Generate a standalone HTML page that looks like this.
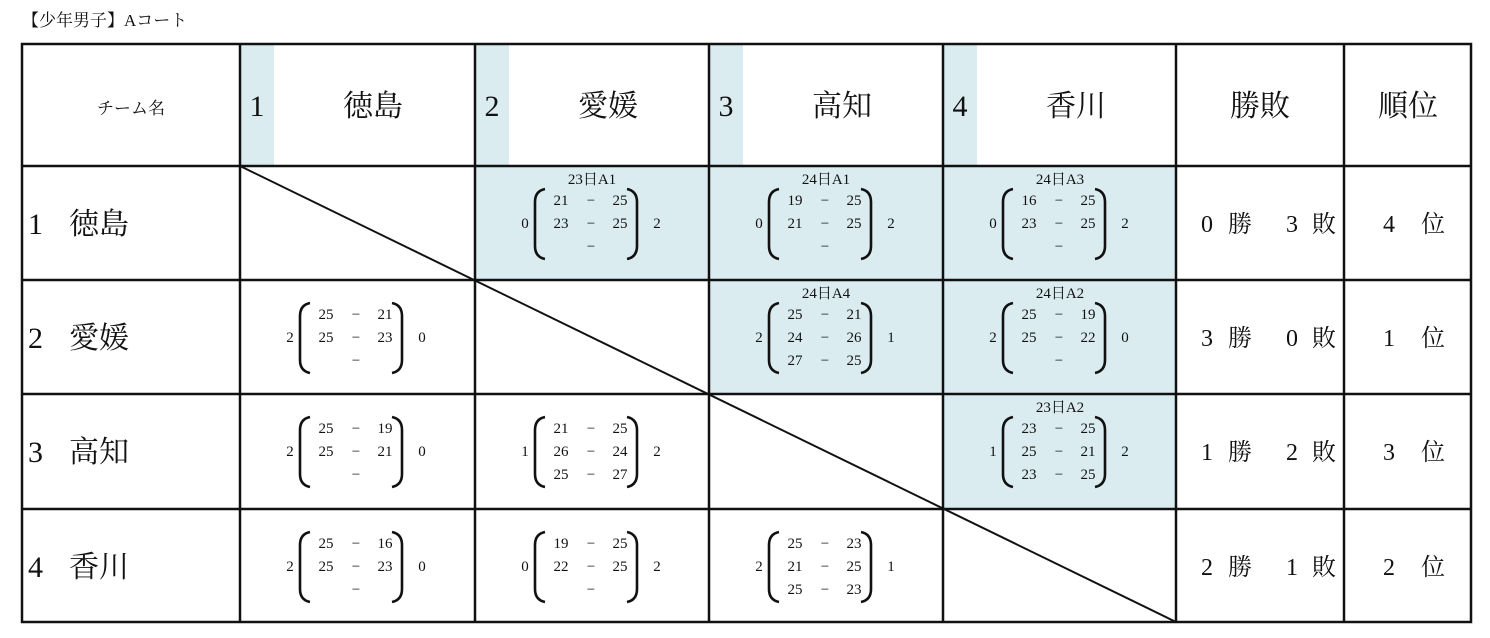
<!DOCTYPE html>
<html><head><meta charset="utf-8"><style>
html,body{margin:0;padding:0;background:#fff;}
svg{display:block;}
text{font-family:"Liberation Serif","Noto Serif CJK SC",serif;fill:#111;}
.s{font-size:15px;text-anchor:middle;}
.b{fill:none;stroke:#111;stroke-width:2.6;}
.w{font-size:24px;text-anchor:middle;}
</style></head><body>
<svg width="1490" height="638" viewBox="0 0 1490 638" xmlns="http://www.w3.org/2000/svg">
<defs>
<g id="br">
<path class="b" d="M70,23 Q60,25 60,36 L60,80 Q60,91 70,93"/>
<path class="b" d="M152,23 Q162,25 162,36 L162,80 Q162,91 152,93"/>
</g>
</defs>
<text x="22" y="26" style="font-size:17px">【少年男子】Aコート</text>
<g fill="#dbecf1">
<rect x="240" y="44" width="34" height="122"/>
<rect x="475" y="44" width="34" height="122"/>
<rect x="709" y="44" width="34" height="122"/>
<rect x="943" y="44" width="34" height="122"/>
<rect x="475" y="166" width="468" height="114"/>
<rect x="943" y="166" width="233" height="114"/>
<rect x="709" y="280" width="467" height="114"/>
<rect x="943" y="394" width="233" height="115"/>
</g>
<g stroke="#111" stroke-width="2.5" fill="none">
<rect x="22" y="44" width="1449" height="578"/>
<line x1="240" y1="44" x2="240" y2="622"/>
<line x1="475" y1="44" x2="475" y2="622"/>
<line x1="709" y1="44" x2="709" y2="622"/>
<line x1="943" y1="44" x2="943" y2="622"/>
<line x1="1176" y1="44" x2="1176" y2="622"/>
<line x1="1344" y1="44" x2="1344" y2="622"/>
<line x1="22" y1="166" x2="1471" y2="166"/>
<line x1="22" y1="280" x2="1471" y2="280"/>
<line x1="22" y1="394" x2="1471" y2="394"/>
<line x1="22" y1="509" x2="1471" y2="509"/>
<line x1="240" y1="166" x2="1176" y2="622" stroke-width="2"/>
</g>
<text x="131" y="114" style="font-size:17px" text-anchor="middle">チーム名</text>
<g style="font-size:30px">
<text x="257" y="116" text-anchor="middle">1</text><text x="373" y="116" text-anchor="middle">徳島</text>
<text x="492" y="116" text-anchor="middle">2</text><text x="608" y="116" text-anchor="middle">愛媛</text>
<text x="726" y="116" text-anchor="middle">3</text><text x="842" y="116" text-anchor="middle">高知</text>
<text x="960" y="116" text-anchor="middle">4</text><text x="1076" y="116" text-anchor="middle">香川</text>
<text x="1260" y="116" text-anchor="middle">勝敗</text>
<text x="1408" y="116" text-anchor="middle">順位</text>
<text x="28" y="234">1</text><text x="69" y="234">徳島</text>
<text x="28" y="348">2</text><text x="69" y="348">愛媛</text>
<text x="28" y="462">3</text><text x="69" y="462">高知</text>
<text x="28" y="577">4</text><text x="69" y="577">香川</text>
</g>
<g>
<text class="w" x="1207" y="232">0</text><text class="w" x="1240" y="232">勝</text><text class="w" x="1292" y="232">3</text><text class="w" x="1324" y="232">敗</text><text class="w" x="1389" y="232">4</text><text class="w" x="1433" y="232">位</text>
<text class="w" x="1207" y="346">3</text><text class="w" x="1240" y="346">勝</text><text class="w" x="1292" y="346">0</text><text class="w" x="1324" y="346">敗</text><text class="w" x="1389" y="346">1</text><text class="w" x="1433" y="346">位</text>
<text class="w" x="1207" y="460">1</text><text class="w" x="1240" y="460">勝</text><text class="w" x="1292" y="460">2</text><text class="w" x="1324" y="460">敗</text><text class="w" x="1389" y="460">3</text><text class="w" x="1433" y="460">位</text>
<text class="w" x="1207" y="575">2</text><text class="w" x="1240" y="575">勝</text><text class="w" x="1292" y="575">1</text><text class="w" x="1324" y="575">敗</text><text class="w" x="1389" y="575">2</text><text class="w" x="1433" y="575">位</text>
</g>
<g>
<g transform="translate(475,166)"><use href="#br"/><text class="s" x="117" y="18">23日A1</text><text class="s" x="50" y="62">0</text><text class="s" x="182" y="62">2</text>
<text class="s" x="86" y="39">21</text><text class="s" x="116" y="39">−</text><text class="s" x="145" y="39">25</text>
<text class="s" x="86" y="62">23</text><text class="s" x="116" y="62">−</text><text class="s" x="145" y="62">25</text>
<text class="s" x="116" y="85">−</text></g>
<g transform="translate(709,166)"><use href="#br"/><text class="s" x="117" y="18">24日A1</text><text class="s" x="50" y="62">0</text><text class="s" x="182" y="62">2</text>
<text class="s" x="86" y="39">19</text><text class="s" x="116" y="39">−</text><text class="s" x="145" y="39">25</text>
<text class="s" x="86" y="62">21</text><text class="s" x="116" y="62">−</text><text class="s" x="145" y="62">25</text>
<text class="s" x="116" y="85">−</text></g>
<g transform="translate(943,166)"><use href="#br"/><text class="s" x="117" y="18">24日A3</text><text class="s" x="50" y="62">0</text><text class="s" x="182" y="62">2</text>
<text class="s" x="86" y="39">16</text><text class="s" x="116" y="39">−</text><text class="s" x="145" y="39">25</text>
<text class="s" x="86" y="62">23</text><text class="s" x="116" y="62">−</text><text class="s" x="145" y="62">25</text>
<text class="s" x="116" y="85">−</text></g>
<g transform="translate(240,280)"><use href="#br"/><text class="s" x="50" y="62">2</text><text class="s" x="182" y="62">0</text>
<text class="s" x="86" y="39">25</text><text class="s" x="116" y="39">−</text><text class="s" x="145" y="39">21</text>
<text class="s" x="86" y="62">25</text><text class="s" x="116" y="62">−</text><text class="s" x="145" y="62">23</text>
<text class="s" x="116" y="85">−</text></g>
<g transform="translate(709,280)"><use href="#br"/><text class="s" x="117" y="18">24日A4</text><text class="s" x="50" y="62">2</text><text class="s" x="182" y="62">1</text>
<text class="s" x="86" y="39">25</text><text class="s" x="116" y="39">−</text><text class="s" x="145" y="39">21</text>
<text class="s" x="86" y="62">24</text><text class="s" x="116" y="62">−</text><text class="s" x="145" y="62">26</text>
<text class="s" x="86" y="85">27</text><text class="s" x="116" y="85">−</text><text class="s" x="145" y="85">25</text></g>
<g transform="translate(943,280)"><use href="#br"/><text class="s" x="117" y="18">24日A2</text><text class="s" x="50" y="62">2</text><text class="s" x="182" y="62">0</text>
<text class="s" x="86" y="39">25</text><text class="s" x="116" y="39">−</text><text class="s" x="145" y="39">19</text>
<text class="s" x="86" y="62">25</text><text class="s" x="116" y="62">−</text><text class="s" x="145" y="62">22</text>
<text class="s" x="116" y="85">−</text></g>
<g transform="translate(240,394)"><use href="#br"/><text class="s" x="50" y="62">2</text><text class="s" x="182" y="62">0</text>
<text class="s" x="86" y="39">25</text><text class="s" x="116" y="39">−</text><text class="s" x="145" y="39">19</text>
<text class="s" x="86" y="62">25</text><text class="s" x="116" y="62">−</text><text class="s" x="145" y="62">21</text>
<text class="s" x="116" y="85">−</text></g>
<g transform="translate(475,394)"><use href="#br"/><text class="s" x="50" y="62">1</text><text class="s" x="182" y="62">2</text>
<text class="s" x="86" y="39">21</text><text class="s" x="116" y="39">−</text><text class="s" x="145" y="39">25</text>
<text class="s" x="86" y="62">26</text><text class="s" x="116" y="62">−</text><text class="s" x="145" y="62">24</text>
<text class="s" x="86" y="85">25</text><text class="s" x="116" y="85">−</text><text class="s" x="145" y="85">27</text></g>
<g transform="translate(943,394)"><use href="#br"/><text class="s" x="117" y="18">23日A2</text><text class="s" x="50" y="62">1</text><text class="s" x="182" y="62">2</text>
<text class="s" x="86" y="39">23</text><text class="s" x="116" y="39">−</text><text class="s" x="145" y="39">25</text>
<text class="s" x="86" y="62">25</text><text class="s" x="116" y="62">−</text><text class="s" x="145" y="62">21</text>
<text class="s" x="86" y="85">23</text><text class="s" x="116" y="85">−</text><text class="s" x="145" y="85">25</text></g>
<g transform="translate(240,509)"><use href="#br"/><text class="s" x="50" y="62">2</text><text class="s" x="182" y="62">0</text>
<text class="s" x="86" y="39">25</text><text class="s" x="116" y="39">−</text><text class="s" x="145" y="39">16</text>
<text class="s" x="86" y="62">25</text><text class="s" x="116" y="62">−</text><text class="s" x="145" y="62">23</text>
<text class="s" x="116" y="85">−</text></g>
<g transform="translate(475,509)"><use href="#br"/><text class="s" x="50" y="62">0</text><text class="s" x="182" y="62">2</text>
<text class="s" x="86" y="39">19</text><text class="s" x="116" y="39">−</text><text class="s" x="145" y="39">25</text>
<text class="s" x="86" y="62">22</text><text class="s" x="116" y="62">−</text><text class="s" x="145" y="62">25</text>
<text class="s" x="116" y="85">−</text></g>
<g transform="translate(709,509)"><use href="#br"/><text class="s" x="50" y="62">2</text><text class="s" x="182" y="62">1</text>
<text class="s" x="86" y="39">25</text><text class="s" x="116" y="39">−</text><text class="s" x="145" y="39">23</text>
<text class="s" x="86" y="62">21</text><text class="s" x="116" y="62">−</text><text class="s" x="145" y="62">25</text>
<text class="s" x="86" y="85">25</text><text class="s" x="116" y="85">−</text><text class="s" x="145" y="85">23</text></g>
</g>
</svg>
</body></html>
